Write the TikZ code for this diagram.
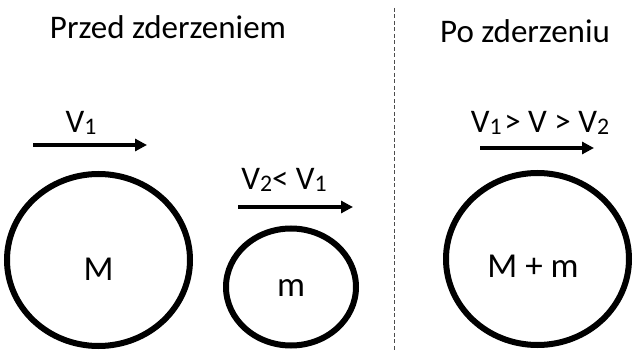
\documentclass[tikz,border=0pt]{standalone}
\usepackage{fontspec}
\setmainfont{Carlito}
\usepackage{graphicx}
\usetikzlibrary{arrows.meta}
\newcommand\lsub[1]{\raisebox{-0.05em}{\scalebox{0.72}{#1}}}
\begin{document}
\begin{tikzpicture}[x=1pt,y=-1pt,
  title/.style={anchor=base,font=\fontsize{33}{35}\selectfont},
  lbl/.style={anchor=base,font=\fontsize{35}{37}\selectfont,inner sep=0pt},
  vel/.style={line width=3.5pt,-{Triangle[length=12pt,width=12pt]}},
  vlbl/.style={anchor=base,font=\fontsize{33}{35}\selectfont,inner sep=0pt}]
\useasboundingbox (0,0) rectangle (638,350);
\draw[black!70,dash pattern=on 4pt off 2.5pt,line width=0.8pt] (394,8) coordinate (dtop) -- (394,350) coordinate (dbot);
\node[title] (t1) at (168,39) {Przed zderzeniem};
\node[title] (t2) at (525,43) {Po zderzeniu};
% balls
\draw[black,line width=6pt] (98.5,260) ellipse [x radius=91.5, y radius=86];
\node[lbl] (M) at (98.5,280) {M};
\draw[black,line width=6pt] (291,287) ellipse [x radius=65, y radius=58.5];
\node[lbl] (m) at (291,297) {m};
\draw[black,line width=6pt] (537.5,259) ellipse [x radius=91.5, y radius=86];
\node[lbl] (Mm) at (533,277) {M + m};
% velocity arrows
\coordinate (a1s) at (33,145); \coordinate (a1e) at (147,145);
\draw[vel] (a1s) -- (a1e);
\node[vlbl] (v1) at (81,133) {V\lsub{1}};
\coordinate (a2s) at (238,207); \coordinate (a2e) at (353,207);
\draw[vel] (a2s) -- (a2e);
\node[vlbl] (v2) at (284,190) {V\lsub{2}< V\lsub{1}};
\coordinate (a3s) at (480,148); \coordinate (a3e) at (594,148);
\draw[vel] (a3s) -- (a3e);
\node[vlbl] (v3) at (540,133) {V\lsub{1}\hspace{0.08em}> V > V\lsub{2}};
\end{tikzpicture}
\end{document}
